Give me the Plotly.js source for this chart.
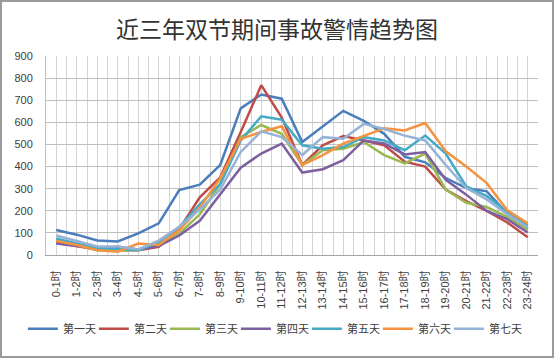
<!DOCTYPE html>
<html><head><meta charset="utf-8">
<script src="https://cdn.plot.ly/plotly-3.0.1.min.js"></script>
<style>
html,body{margin:0;padding:0;background:#fff;}
#chart{width:554px;height:358px;box-sizing:border-box;border:2px solid #9a9a9a;}
</style></head>
<body><div id="chart"></div>
<script>
const categories = ['0-1时','1-2时','2-3时','3-4时','4-5时','5-6时','6-7时','7-8时','8-9时','9-10时','10-11时','11-12时','12-13时','13-14时','14-15时','15-16时','16-17时','17-18时','18-19时','19-20时','20-21时','21-22时','22-23时','23-24时'];
const seriesNames = ['第一天','第二天','第三天','第四天','第五天','第六天','第七天'];
const day1 = [113, 92, 66, 61, 98, 143, 294, 318, 407, 663, 726, 707, 511, 582, 652, 607, 548, 444, 419, 348, 303, 288, 187, 120];
const day2 = [55, 40, 25, 22, 22, 37, 117, 261, 351, 556, 768, 622, 407, 496, 538, 518, 496, 422, 400, 296, 244, 199, 147, 80];
const day3 = [67, 45, 22, 22, 22, 52, 97, 184, 321, 533, 588, 548, 407, 474, 481, 511, 452, 414, 459, 296, 236, 217, 172, 114];
const day4 = [52, 40, 30, 37, 25, 40, 88, 155, 273, 395, 459, 504, 373, 388, 429, 518, 504, 455, 466, 340, 273, 199, 162, 102];
const day5 = [75, 52, 30, 27, 22, 59, 126, 229, 321, 518, 627, 612, 496, 481, 488, 533, 518, 474, 540, 459, 310, 266, 196, 132];
const day6 = [64, 45, 22, 15, 52, 45, 112, 214, 347, 526, 556, 582, 407, 452, 504, 540, 573, 563, 597, 469, 400, 325, 202, 143];
const day7 = [88, 65, 39, 39, 25, 65, 128, 206, 296, 466, 559, 533, 452, 533, 526, 593, 570, 540, 518, 407, 303, 251, 184, 125];
const yTicks = [0,100,200,300,400,500,600,700,800,900];

const allSeries = [day1, day2, day3, day4, day5, day6, day7];
const colors = ['#4A7EBB','#BE4B48','#98B954','#7D60A0','#46AAC5','#F69240','#95B3D7'];
const idx = categories.map((c, i) => i);

const traces = allSeries.map((vals, k) => ({
  type: 'scatter', mode: 'lines', name: seriesNames[k],
  x: idx, y: vals,
  line: {color: colors[k], width: 2.5},
  legendwidth: k === allSeries.length - 1 ? 40 : 26,
  hoverinfo: 'skip'
}));

const fontFam = "'Liberation Sans', 'Noto Sans CJK SC', sans-serif";
const layout = {
  width: 550, height: 354,
  margin: {l: 44, r: 14, t: 54, b: 98},
  paper_bgcolor: '#fff', plot_bgcolor: '#fff',
  font: {family: fontFam, size: 11, color: '#404040'},
  title: {text: '近三年双节期间事故警情趋势图', x: 0.5, xref: 'container', y: 0.92, yref: 'container', yanchor: 'middle',
          font: {family: "'Noto Sans CJK SC', sans-serif", size: 23, color: '#333'}},
  showlegend: true,
  legend: {orientation: 'h', x: -0.047, xanchor: 'left', y: -0.371, yanchor: 'middle',
           font: {family: "'Noto Sans CJK SC', sans-serif", size: 11, color: '#404040'},
           itemwidth: 30, entrywidthmode: 'pixels'},
  xaxis: {type: 'linear', range: [-0.5, categories.length - 0.5], tickmode: 'array', tickvals: idx, ticktext: categories,
          tickangle: -90, showgrid: true, gridcolor: '#D4D4D4', gridwidth: 1,
          minor: {tickmode: 'linear', tick0: -0.5, dtick: 1, showgrid: true, gridcolor: '#D4D4D4', gridwidth: 1, ticks: ''},
          showline: true, linecolor: '#A6A6A6', linewidth: 1, zeroline: false, ticks: '', ticklabelstandoff: 10,
          tickfont: {family: fontFam, size: 11, color: '#404040'}, fixedrange: true, automargin: false},
  yaxis: {range: [0, 900], tickmode: 'array', tickvals: yTicks, showgrid: true, gridcolor: '#BFBFBF', gridwidth: 1,
          showline: true, linecolor: '#BFBFBF', zeroline: false, ticks: '', ticklabelstandoff: 10,
          tickfont: {family: fontFam, size: 11, color: '#404040'}, fixedrange: true, automargin: false}
};
Plotly.newPlot('chart', traces, layout, {displayModeBar: false, staticPlot: true});
</script></body></html>
